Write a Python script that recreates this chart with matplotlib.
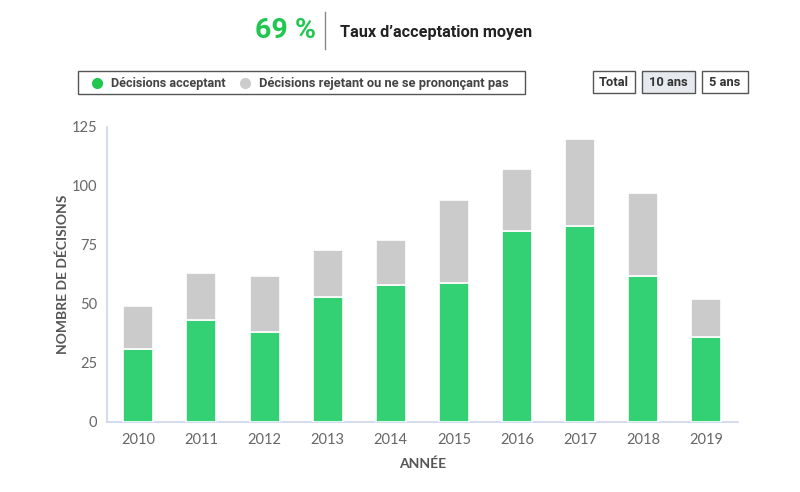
import matplotlib
matplotlib.use("Agg")
import matplotlib.pyplot as plt
from matplotlib.patches import Rectangle
from matplotlib.lines import Line2D

years = ["2010", "2011", "2012", "2013", "2014", "2015", "2016", "2017", "2018", "2019"]
acceptant = [31, 43, 38, 53, 58, 59, 81, 83, 62, 36]
rejetant = [18, 20, 24, 20, 19, 35, 26, 37, 35, 16]
yticks = [0, 25, 50, 75, 100, 125]
taux = "69 %"

GREEN = "#33d174"
GRAY = "#cbcbcb"
AXIS = "#ccd6eb"
TXT = "#666666"

fig = plt.figure(figsize=(8, 4.92), dpi=100)
W, H = 800, 492

def fx(x):
    return x / W

def fy(y):
    return 1 - y / H

ax = fig.add_axes([fx(106.7), fy(421.7), fx(738) - fx(106.7), fy(127) - fy(421.7)])
x = list(range(len(years)))
ax.bar(x, acceptant, width=0.475, color=GREEN, edgecolor="white", linewidth=1.2, zorder=3)
ax.bar(x, rejetant, width=0.475, bottom=acceptant, color=GRAY, edgecolor="white", linewidth=1.2, zorder=3)
ax.set_xlim(-0.5, len(years) - 0.5)
ax.set_ylim(0, 125)
ax.set_yticks(yticks)
ax.set_xticks(x)
ax.set_xticklabels(years)
for s in ["top", "right"]:
    ax.spines[s].set_visible(False)
for s in ["left", "bottom"]:
    ax.spines[s].set_color(AXIS)
    ax.spines[s].set_linewidth(1.2)
ax.tick_params(axis="both", length=0, labelsize=10.5, labelcolor=TXT, pad=8)
ax.tick_params(axis="y", pad=7)
for lab in ax.get_xticklabels() + ax.get_yticklabels():
    lab.set_fontfamily("Lato")
ax.set_ylabel("NOMBRE DE DÉCISIONS", fontsize=10, fontweight="bold", color="#555555",
              family="Lato", labelpad=2)
ax.set_xlabel("ANNÉE", fontsize=10, fontweight="bold", color="#555555", family="Lato", labelpad=8)

# Header
fig.text(fx(316), fy(31), taux, fontsize=20.5, fontweight="bold", color="#1fc74f",
         ha="right", va="center", family="Roboto")
fig.add_artist(Line2D([fx(325), fx(325)], [fy(12), fy(49)], color="#888888", lw=1,
                      transform=fig.transFigure))
fig.text(fx(340), fy(32), "Taux d\u2019acceptation moyen", fontsize=11.7, fontweight="bold",
         color="#222222", ha="left", va="center", family="Roboto")

# Legend box
fig.add_artist(Rectangle((fx(78), fy(94)), fx(525) - fx(78), fy(71) - fy(94),
                         transform=fig.transFigure, facecolor="white", edgecolor="#555555", lw=1))
fig.add_artist(Line2D([fx(97)], [fy(83)], marker="o", markersize=7, color="#1fc74f",
                      transform=fig.transFigure, lw=0))
fig.text(fx(111), fy(83), "Décisions acceptant", fontsize=9.1, fontweight="bold",
         color="#444444", ha="left", va="center", family="Roboto")
fig.add_artist(Line2D([fx(245)], [fy(83)], marker="o", markersize=7, color="#cccccc",
                      transform=fig.transFigure, lw=0))
fig.text(fx(259), fy(83), "Décisions rejetant ou ne se prononçant pas", fontsize=9.3,
         fontweight="bold", color="#444444", ha="left", va="center", family="Roboto")

# Buttons
buttons = [("Total", 593, 635, "white"), ("10 ans", 642, 695, "#e6e9ee"), ("5 ans", 702, 748, "white")]
for label, x0, x1, fc in buttons:
    fig.add_artist(Rectangle((fx(x0), fy(93)), fx(x1) - fx(x0), fy(71) - fy(93),
                             transform=fig.transFigure, facecolor=fc, edgecolor="#555555", lw=1))
    fig.text(fx((x0 + x1) / 2), fy(82), label, fontsize=9.3, fontweight="bold",
             color="#333333", ha="center", va="center", family="Roboto")

fig.savefig("out.png", dpi=100)
